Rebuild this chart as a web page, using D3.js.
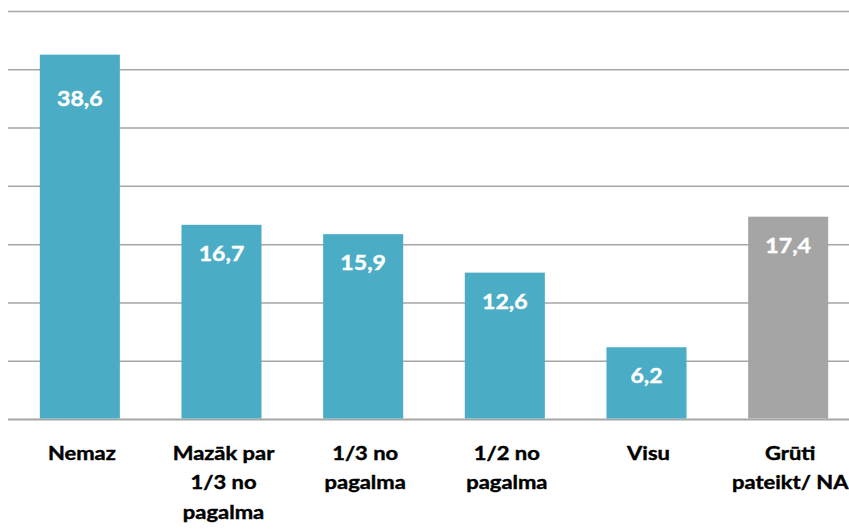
<!DOCTYPE html>
<html>
<head>
<meta charset="utf-8">
<script src="https://cdn.jsdelivr.net/npm/d3@7"></script>
<style>
  body { margin: 0; background: #fff; }
  svg { display: block; }
</style>
</head>
<body>
<div id="chart"></div>
<script>
// categories (wrapped the same way as the picture)
var categories = [
  ["Nemaz"],
  ["Mazāk par", "1/3 no", "pagalma"],
  ["1/3 no", "pagalma"],
  ["1/2 no", "pagalma"],
  ["Visu"],
  ["Grūti", "pateikt/ NA"]
];
// printed values (%)
var values = [38.6, 16.7, 15.9, 12.6, 6.2, 17.4];
// bar heights as drawn in the picture (first bar is cut short there)
var barHeights = [31.3, 16.7, 15.9, 12.6, 6.2, 17.4];
var isNA = [false, false, false, false, false, true];
var gridTicks = [0, 5, 10, 15, 20, 25, 30, 35];

var width = 849, height = 529;

var svg = d3.select("#chart")
  .append("svg")
    .attr("width", width)
    .attr("height", height);

var x = d3.scaleBand()
  .domain(d3.range(categories.length))
  .range([9, 859])
  .paddingInner(0.435)
  .paddingOuter(0.2175);

var y = d3.scaleLinear()
  .domain([0, 35])
  .range([419.5, 11.5]);

// gridlines
svg.append("g")
  .selectAll("line")
  .data(gridTicks)
  .enter().append("line")
    .attr("x1", 8)
    .attr("x2", width)
    .attr("y1", function(d) { return y(d); })
    .attr("y2", function(d) { return y(d); })
    .attr("stroke", "#a6a6a6")
    .attr("stroke-width", function(d) { return d === 0 ? 2 : 1.5; });

// bars
svg.append("g")
  .selectAll("rect")
  .data(barHeights)
  .enter().append("rect")
    .attr("x", function(d, i) { return x(i); })
    .attr("y", function(d) { return y(d); })
    .attr("width", x.bandwidth())
    .attr("height", function(d) { return y(0) - y(d) - 1; })
    .attr("fill", function(d, i) { return isNA[i] ? "#a5a5a5" : "#4bacc6"; });

// value labels inside bars (first one sits lower in the picture)
svg.append("g")
  .selectAll("text")
  .data(values)
  .enter().append("text")
    .attr("transform", function(d, i) {
      var off = i === 0 ? 51 : 36;
      return "translate(" + (x(i) + x.bandwidth() / 2) + "," + (y(barHeights[i]) + off) + ") scale(1.1,1)";
    })
    .attr("text-anchor", "middle")
    .attr("font-family", "Lato, 'Open Sans', sans-serif")
    .attr("font-weight", "bold")
    .attr("font-size", "21px")
    .attr("fill", "#fff")
    .attr("stroke", "#fff")
    .attr("stroke-width", 0.4)
    .text(function(d) { return d3.format(".1f")(d).replace(".", ","); });

// category labels
var cat = svg.append("g")
  .selectAll("text")
  .data(categories)
  .enter().append("text")
    .attr("transform", function(d, i) {
      return "translate(" + (x(i) + x.bandwidth() / 2 + 2) + ",460) scale(1.22,1)";
    })
    .attr("text-anchor", "middle")
    .attr("font-family", "Lato, 'Open Sans', sans-serif")
    .attr("font-weight", "bold")
    .attr("font-size", "18px")
    .attr("fill", "#000")
    .attr("stroke", "#000")
    .attr("stroke-width", 0.4);

cat.selectAll("tspan")
  .data(function(d) { return d; })
  .enter().append("tspan")
    .attr("x", 0)
    .attr("y", function(d, j) { return j * 29.5; })
    .text(function(d) { return d; });
</script>
</body>
</html>
